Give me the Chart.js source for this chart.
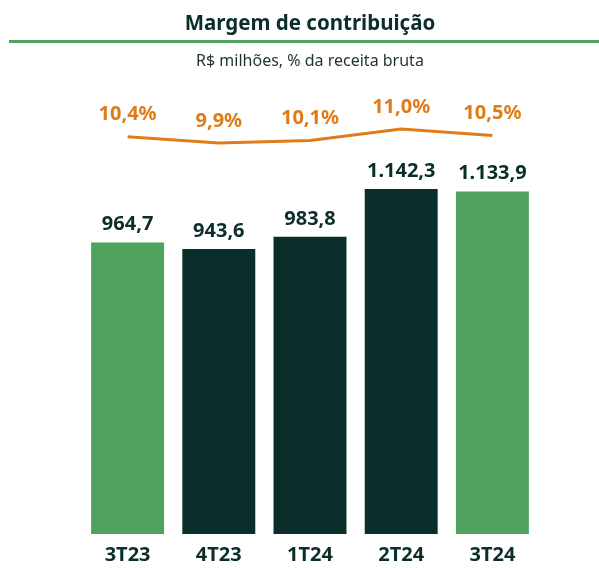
<!DOCTYPE html>
<html>
<head>
<meta charset="utf-8">
<script src="https://cdn.jsdelivr.net/npm/chart.js@4"></script>
<style>
  body { margin: 0; background: #fff; }
  #wrap { position: relative; width: 599px; height: 568px; }
  #title { position: absolute; top: 8px; left: 20px; width: 580px; text-align: center;
           font: bold 20.5px "Noto Sans", sans-serif; color: #0b2e2a; }
  #rule { position: absolute; top: 40px; left: 9px; width: 590px; height: 3px; background: #4fa35e; }
  #sub { position: absolute; top: 49px; left: 20px; width: 580px; text-align: center;
         font: 16px "Noto Sans", sans-serif; color: #1f3330; }
  canvas { position: absolute; top: 0; left: 0; }
</style>
</head>
<body>
<div id="wrap">
  <canvas id="chart" width="599" height="568"></canvas>
  <div id="title">Margem de contribuição</div>
  <div id="rule"></div>
  <div id="sub">R$ milhões, % da receita bruta</div>
</div>
<script>
// dados do gráfico
const quarters = ['3T23', '4T23', '1T24', '2T24', '3T24'];
const margemValues = [964.7, 943.6, 983.8, 1142.3, 1133.9];
const margemLabels = ['964,7', '943,6', '983,8', '1.142,3', '1.133,9'];
const pctValues = [10.4, 9.9, 10.1, 11.0, 10.5];
const pctLabels = ['10,4%', '9,9%', '10,1%', '11,0%', '10,5%'];

const lightGreen = '#4fa35e';
const darkGreen = '#0b2e2a';
const orange = '#e07b18';
const barColors = quarters.map((q, i) => (i === 0 || i === quarters.length - 1) ? lightGreen : darkGreen);

// rótulos em cima das barras e da linha
const valueLabels = {
    id: 'valueLabels',
    afterDatasetsDraw(chart) {
        const ctx = chart.ctx;
        ctx.save();
        ctx.textAlign = 'center';
        ctx.textBaseline = 'middle';
        ctx.font = 'bold 20px "Noto Sans", sans-serif';

        chart.getDatasetMeta(1).data.forEach((bar, i) => {
            ctx.fillStyle = darkGreen;
            ctx.fillText(margemLabels[i], bar.x, bar.y - 18);
        });
        chart.getDatasetMeta(0).data.forEach((pt, i) => {
            ctx.fillStyle = orange;
            ctx.fillText(pctLabels[i], pt.x, pt.y - 22);
        });
        ctx.restore();
    }
};

new Chart(document.getElementById('chart'), {
    type: 'bar',
    data: {
        labels: quarters,
        datasets: [
            {
                type: 'line',
                data: pctValues,
                yAxisID: 'y1',
                borderColor: orange,
                borderWidth: 3,
                pointRadius: 0,
                tension: 0,
                order: 0
            },
            {
                data: margemValues,
                yAxisID: 'y',
                backgroundColor: barColors,
                categoryPercentage: 1,
                barPercentage: 0.8,
                order: 1
            }
        ]
    },
    options: {
        responsive: false,
        animation: false,
        layout: { padding: { top: 90, bottom: 0, left: 82, right: 61 } },
        plugins: { legend: { display: false }, tooltip: { enabled: false } },
        scales: {
            x: {
                grid: { display: false },
                border: { display: false },
                ticks: {
                    color: darkGreen,
                    padding: 1,
                    font: { family: 'Noto Sans', size: 20, weight: 'bold' }
                }
            },
            y: { display: false, min: 0, max: 1470 },
            y1: { display: false, min: -20.74, max: 14.06 }
        }
    },
    plugins: [valueLabels]
});
</script>
</body>
</html>
